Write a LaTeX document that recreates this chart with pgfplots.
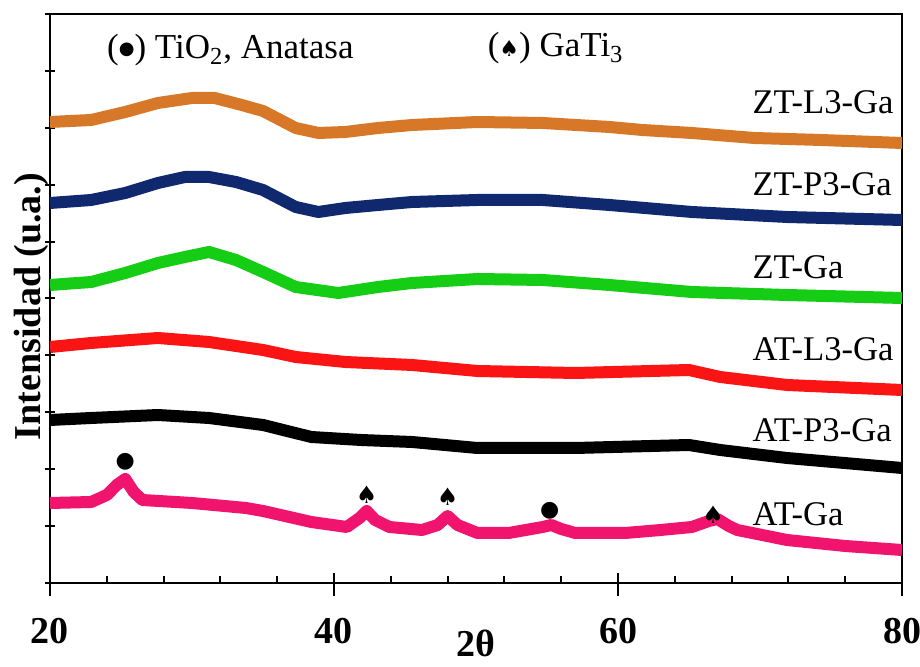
\documentclass[border=0pt]{standalone}
\usepackage{pgfplots}
\pgfplotsset{compat=1.18}
\usepackage{fontspec}
\setmainfont{Liberation Serif}
\newfontfamily\sym{DejaVu Sans}
\definecolor{corange}{RGB}{214,120,40}
\definecolor{cblue}{RGB}{15,40,110}
\definecolor{cgreen}{RGB}{20,205,20}
\definecolor{cred}{RGB}{250,20,20}
\definecolor{cpink}{RGB}{240,20,110}
\begin{document}
\begin{tikzpicture}
\begin{axis}[
  scale only axis, width=426pt, height=284.5pt,
  xmin=20, xmax=80, ymin=0, ymax=569,
  clip mode=individual,
  /pgf/number format/assume math mode=true,
  axis line style={line width=1pt},
  xtick={20,40,60,80},
  minor xtick={24,28,32,36,44,48,52,56,64,68,72,76},
  xtick pos=left, ytick pos=left,
  xtick align=inside, ytick align=center,
  major tick length=5pt, minor tick length=3.5pt,
  tick style={line width=1pt, black},
  extra x ticks={20,40,60,80},
  extra x tick labels={},
  extra x tick style={xtick align=outside, major tick length=6.5pt},
  ytick={0,56.9,...,570},
  yticklabels={},
  xticklabel style={font=\fontsize{19}{20}\selectfont\bfseries, anchor=base, yshift=-30.5pt},
  xlabel={2θ},
  xlabel style={font=\fontsize{19}{20}\selectfont\bfseries, at={(axis description cs:0.5,0)}, anchor=base, yshift=-37pt},
  ylabel={Intensidad (u.a.)},
  ylabel style={font=\fontsize{19}{20}\selectfont\bfseries, at={(axis description cs:-0.0117,0.486)}, anchor=base},
  every axis plot/.append style={line width=6pt, line join=round},
]
% ZT-L3-Ga (values: 583 - pixel row)
\addplot[corange] coordinates {
(20,461) (22.9,463) (25.3,471) (27.6,480) (30,485) (31.6,485) (33.5,478) (35,472)
(37.3,455) (38.9,450) (40.8,451) (43.1,455) (45.5,458) (50.1,461) (54.7,460)
(59.4,456) (61.7,453) (65.2,450) (69.6,445) (74.3,443) (80,440)};
% ZT-P3-Ga
\addplot[cblue] coordinates {
(20,380) (22.9,383) (25.3,390) (27.6,400) (29.5,406) (31.2,406) (33.1,401) (35,393)
(37.3,376) (38.9,371) (40.8,375) (43.1,378) (45.5,381) (50.1,383) (54.7,383)
(59.4,378) (65.2,371) (71.9,366) (80,363)};
% ZT-Ga
\addplot[cgreen] coordinates {
(20,298) (22.9,301) (25.3,310) (27.6,320) (29.5,326) (31.2,331) (33.1,323) (35,311)
(37.3,296) (40.3,290) (43.1,296) (45.5,300) (50.1,304) (54.7,303)
(59.4,298) (65.2,291) (71.9,288) (80,285)};
% AT-L3-Ga
\addplot[cred] coordinates {
(20,236) (22.9,240) (27.6,245) (31.2,241) (35,233) (37.3,226) (40.8,221) (45.5,218)
(50.1,212) (57,210) (65,213) (67.2,206) (71.9,198) (80,193)};
% AT-P3-Ga
\addplot[black] coordinates {
(20,163) (22.9,165) (27.6,168) (31.2,165) (35,158) (38.4,146) (41.9,143) (45.5,141)
(50.1,135) (57,135) (65,138) (67.2,133) (71.9,125) (80,115)};
% AT-Ga
\addplot[cpink] coordinates {
(20,80) (22.9,81) (24.0,88) (24.7,98) (25.3,104) (25.9,91) (26.5,83) (30,80)
(33.8,75) (35,72) (38.4,61) (40.9,56) (41.8,65) (42.3,72) (42.9,63) (43.9,56)
(46.2,53) (47.3,58) (48.0,67) (48.7,58) (49.4,54) (50.1,50) (52.3,50) (54.7,56)
(55.3,58) (56,54) (57,50) (60.5,50) (63,53) (65.2,56) (66.4,62) (67.0,64)
(67.8,57) (68.4,53) (71.9,43) (76,37) (80,33)};
% phase markers
\node[inner sep=0] at (axis cs:25.3,121) {\sym\fontsize{11}{11}\selectfont ●};
\node[inner sep=0] at (axis cs:55.2,72) {\sym\fontsize{11}{11}\selectfont ●};
\node[inner sep=0] at (axis cs:42.3,88) {\sym\fontsize{12}{12}\selectfont ♠};
\node[inner sep=0] at (axis cs:48.0,86) {\sym\fontsize{12}{12}\selectfont ♠};
\node[inner sep=0] at (axis cs:66.7,68) {\sym\fontsize{12}{12}\selectfont ♠};
% legend texts
\node[anchor=base west, inner sep=0, font=\fontsize{17.5}{18}\selectfont] at (axis cs:24.0,524) {(\raisebox{2.2pt}{\sym\fontsize{9}{9}\selectfont ●}) TiO\textsubscript{2}, Anatasa};
\node[anchor=base west, inner sep=0, font=\fontsize{17.5}{18}\selectfont] at (axis cs:50.8,526) {({\sym\fontsize{11}{11}\selectfont ♠}) GaTi\textsubscript{3}};
% curve labels
\node[anchor=base west, inner sep=0, font=\fontsize{17.3}{18}\selectfont] at (axis cs:69.45,469) {ZT-L3-Ga};
\node[anchor=base west, inner sep=0, font=\fontsize{17.3}{18}\selectfont] at (axis cs:69.45,387) {ZT-P3-Ga};
\node[anchor=base west, inner sep=0, font=\fontsize{17.3}{18}\selectfont] at (axis cs:69.45,304) {ZT-Ga};
\node[anchor=base west, inner sep=0, font=\fontsize{17.3}{18}\selectfont] at (axis cs:69.45,222) {AT-L3-Ga};
\node[anchor=base west, inner sep=0, font=\fontsize{17.3}{18}\selectfont] at (axis cs:69.45,141) {AT-P3-Ga};
\node[anchor=base west, inner sep=0, font=\fontsize{17.3}{18}\selectfont] at (axis cs:69.45,57) {AT-Ga};
\coordinate (bl) at (rel axis cs:0,0);
\end{axis}
\pgfresetboundingbox
\path (bl) ++(-25pt,-42pt) rectangle ++(460pt,333.5pt);
\end{tikzpicture}
\end{document}
